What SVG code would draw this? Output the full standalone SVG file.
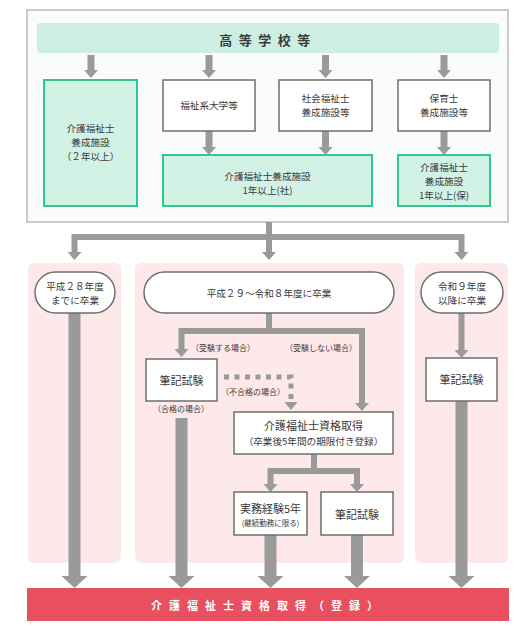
<svg xmlns="http://www.w3.org/2000/svg" width="531" height="630" viewBox="0 0 531 630">
<style>
text{font-family:"Noto Sans CJK JP","Noto Sans",sans-serif;fill:#3a3a3a;text-anchor:middle;dominant-baseline:central}
.box{fill:#fff;stroke:#6e6e6e;stroke-width:1.5}
.gbox{fill:#d3f2e6;stroke:#2fc98e;stroke-width:2}
.pill{fill:#fff;stroke:#6e6e6e;stroke-width:1.5}
.panel{fill:#fde8ea}
.t10{font-size:9.6px}
.t11{font-size:11px}
.t8{font-size:8px}
.ln{stroke:#9a9a9a;fill:none}
.hd{fill:#9a9a9a}
</style>
<rect x="27" y="10" width="481" height="212" fill="#fafcfc" stroke="#cacaca" stroke-width="2"/>
<g id="header">
<rect x="37" y="23" width="462" height="30" rx="3" fill="#cdeee2"/>
<text x="268" y="39" style="font-size:13px;font-weight:bold;letter-spacing:6.5px">高等学校等</text>
</g>
<g id="panels">
<rect class="panel" x="28" y="263" width="93" height="300" rx="6"/>
<rect class="panel" x="135" y="263" width="269" height="300" rx="6"/>
<rect class="panel" x="415" y="263" width="93" height="300" rx="6"/>
</g>
<g id="connectors">
<path class="ln" stroke-width="7" d="M91 55V70M209 55V70M325.5 55V70M444 55V70"/>
<path class="hd" d="M84 70h14l-7 8zM202 70h14l-7 8zM318.5 70h14l-7 8zM437 70h14l-7 8z"/>
<path class="ln" stroke-width="7" d="M209 131V147M325.5 131V147M444 131V147"/>
<path class="hd" d="M202 147h14l-7 8zM318.5 147h14l-7 8zM437 147h14l-7 8z"/>
<path class="ln" stroke-width="6" d="M269 222V237M74.5 252V237H461.5V252M269 237V252"/>
<path class="hd" d="M67.5 252h14l-7 8zM262 252h14l-7 8zM454.5 252h14l-7 8z"/>
<path class="ln" stroke-width="6" d="M269 313V331M181.5 349V331H362V403"/>
<path class="hd" d="M174.5 349h14l-7 8zM355 403h14l-7 8z"/>
<path class="ln" stroke-width="5" stroke-dasharray="5 5.5" d="M224 377H291V402"/>
<path class="hd" d="M284.5 402h13l-6.5 8z"/>
<path class="ln" stroke-width="6" d="M461.5 313V350"/>
<path class="hd" d="M454.5 350h14l-7 8z"/>
<path class="ln" stroke-width="6" d="M314 454V471M270.5 484V471H357V484"/>
<path class="hd" d="M263.5 484h14l-7 8zM350 484h14l-7 8z"/>
<path class="ln" stroke-width="12" d="M74.5 313V576M181.5 418V576M270.5 535V576M357 535V576M461.5 401V576"/>
<path class="hd" d="M61.5 576h26l-13 12zM168.5 576h26l-13 12zM257.5 576h26l-13 12zM344 576h26l-13 12zM448.5 576h26l-13 12z"/>
</g>
<g id="n-yosei2">
<rect class="gbox" x="44" y="80" width="93" height="126"/>
<text class="t10" x="90.5" y="128">介護福祉士</text>
<text class="t10" x="90.5" y="142">養成施設</text>
<text class="t10" x="90.5" y="156">（２年以上）</text>
</g>
<g id="n-daigaku">
<rect class="box" x="163" y="80" width="92" height="51"/>
<text class="t10" x="209" y="105">福祉系大学等</text>
</g>
<g id="n-shakai">
<rect class="box" x="279" y="80" width="93" height="51"/>
<text class="t10" x="325.5" y="98">社会福祉士</text>
<text class="t10" x="325.5" y="112">養成施設等</text>
</g>
<g id="n-hoiku">
<rect class="box" x="398" y="80" width="92" height="51"/>
<text class="t10" x="444" y="98">保育士</text>
<text class="t10" x="444" y="112">養成施設等</text>
</g>
<g id="n-yosei1sha">
<rect class="gbox" x="163" y="155" width="209" height="51"/>
<text class="t10" x="267.5" y="176">介護福祉士養成施設</text>
<text class="t10" x="267.5" y="190">1年以上(社)</text>
</g>
<g id="n-yosei1ho">
<rect class="gbox" x="398" y="155" width="92" height="51"/>
<text class="t10" x="444" y="166.5">介護福祉士</text>
<text class="t10" x="444" y="180.5">養成施設</text>
<text class="t10" x="444" y="194.5">1年以上(保)</text>
</g>
<g id="n-h28">
<rect class="pill" x="35" y="272" width="80" height="41" rx="20.5"/>
<text class="t10" x="75" y="285.5">平成２８年度</text>
<text class="t10" x="75" y="299.5">までに卒業</text>
</g>
<g id="n-h29">
<rect class="pill" x="144" y="272" width="250" height="41" rx="20.5"/>
<text class="t10" x="269" y="292.5">平成２９〜令和８年度に卒業</text>
</g>
<g id="n-r9">
<rect class="pill" x="421" y="272" width="82" height="41" rx="20.5"/>
<text class="t10" x="462" y="285.5">令和９年度</text>
<text class="t10" x="462" y="299.5">以降に卒業</text>
</g>
<g id="labels">
<text class="t8" x="223" y="347">（受験する場合）</text>
<text class="t8" x="321" y="347">（受験しない場合）</text>
<text class="t8" x="253" y="391">（不合格の場合）</text>
<text class="t8" x="181" y="408">（合格の場合）</text>
</g>
<g id="n-hikki1">
<rect class="box" x="146" y="359" width="71" height="42"/>
<text class="t11" x="181.5" y="380">筆記試験</text>
</g>
<g id="n-hikki-r">
<rect class="box" x="426" y="358" width="71" height="43"/>
<text class="t11" x="461.5" y="379">筆記試験</text>
</g>
<g id="n-shikaku">
<rect class="box" x="234" y="412" width="159" height="42"/>
<text class="t11" x="313.5" y="424.5">介護福祉士資格取得</text>
<text class="t10" x="313.5" y="440.5">（卒業後5年間の期限付き登録）</text>
</g>
<g id="n-jitsumu">
<rect class="box" x="234" y="492" width="73" height="43"/>
<text class="t11" x="270.5" y="508">実務経験5年</text>
<text style="font-size:7.5px" x="270.5" y="522.5">(継続勤務に限る)</text>
</g>
<g id="n-hikki2">
<rect class="box" x="321" y="492" width="72" height="43"/>
<text class="t11" x="357" y="513.5">筆記試験</text>
</g>
<g id="n-touroku">
<rect x="27" y="588" width="482" height="33" fill="#e8505f"/>
<text x="268" y="604.5" style="font-size:11px;font-weight:bold;fill:#fff;letter-spacing:7px">介護福祉士資格取得（登録）</text>
</g>
</svg>
